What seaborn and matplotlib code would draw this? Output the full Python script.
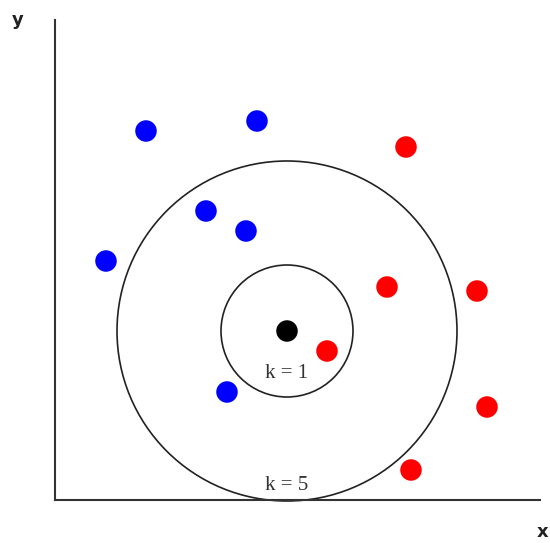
import matplotlib
matplotlib.use("Agg")
import matplotlib.pyplot as plt
import seaborn as sns
import pandas as pd

# point positions (arbitrary units, origin at the axes corner)
blue_x = [91, 202, 151, 191, 51, 172]
blue_y = [369, 379, 289, 269, 239, 108]
red_x = [351, 332, 422, 272, 432, 356]
red_y = [353, 213, 209, 149, 93, 30]
query_x = [232]
query_y = [169]
k_values = [1, 5]
k_radii = [66, 170]
k_label_y = [126, 15]

df = pd.DataFrame({
    "x": blue_x + red_x + query_x,
    "y": blue_y + red_y + query_y,
    "cls": ["blue"] * len(blue_x) + ["red"] * len(red_x) + ["query"],
})

sns.set_style("white")
fig = plt.figure(figsize=(5.5, 5.43), dpi=100)
ax = fig.add_axes([55 / 550, 43 / 543, 485 / 550, 480 / 543])

sns.scatterplot(data=df, x="x", y="y", hue="cls",
                palette={"blue": "#0000ff", "red": "#ff0000", "query": "#000000"},
                s=240, linewidth=0, legend=False, ax=ax, zorder=3)

for k, r, ly in zip(k_values, k_radii, k_label_y):
    circ = plt.Circle((query_x[0], query_y[0]), r, fill=False,
                      color="#222222", lw=1.2, clip_on=False)
    ax.add_patch(circ)
    ax.text(query_x[0], ly, f"k = {k}", ha="center", va="center",
            family="Liberation Serif", fontsize=15, color="#333333")

ax.set_xlim(0, 485)
ax.set_ylim(0, 480)
ax.set_xticks([])
ax.set_yticks([])
ax.set_xlabel("")
ax.set_ylabel("")
sns.despine(ax=ax)
for side in ["left", "bottom"]:
    ax.spines[side].set_color("#333333")
    ax.spines[side].set_linewidth(1.5)

fig.text(18 / 550, 1 - 20 / 543, "y", ha="center", va="center",
         fontsize=13, fontweight="bold", color="#222222")
fig.text(543 / 550, 1 - 532 / 543, "x", ha="center", va="center",
         fontsize=13, fontweight="bold", color="#222222")

fig.savefig("out.png", dpi=100, facecolor="white")
